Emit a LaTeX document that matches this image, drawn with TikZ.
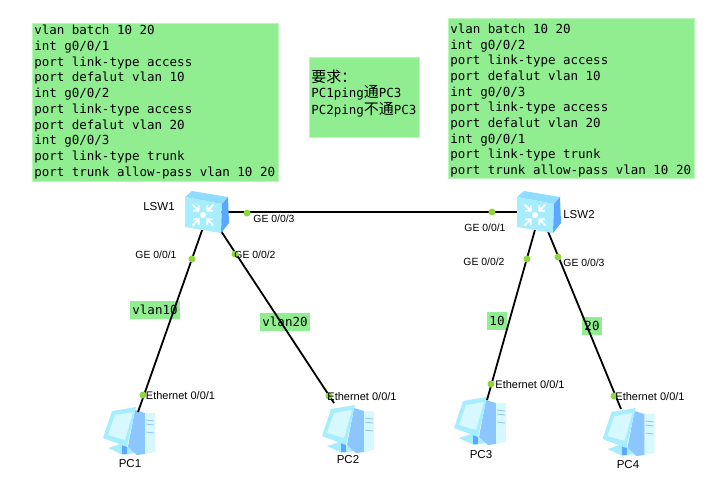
\documentclass[tikz,border=0pt]{standalone}
\usepackage{fontspec}
\setmainfont{Liberation Sans}
\setmonofont{DejaVu Sans Mono}
\newfontfamily\cjk{Noto Sans CJK SC}
\definecolor{notegreen}{HTML}{90EE90}
\definecolor{dotgreen}{HTML}{8FD63C}
\definecolor{iconfront}{HTML}{A6EEFF}
\definecolor{icontop}{HTML}{8FDCFF}
\definecolor{iconside}{HTML}{5CA8FF}
\definecolor{iconpale}{HTML}{D8F8FF}
\definecolor{iconmid}{HTML}{8CC6FF}
\newcommand{\cn}[1]{{\cjk\fontsize{15}{15}\selectfont #1}}
\tikzset{
  note/.style={fill=notegreen,draw=notegreen!60!white,line width=0.5pt,anchor=north west,align=left,inner sep=0pt,
    font=\ttfamily\fontsize{12.5}{15.7}\selectfont},
  tag/.style={fill=notegreen,inner sep=0pt,minimum height=18pt,font=\ttfamily\fontsize{12.5}{14}\selectfont},
  port/.style={font=\fontsize{10.4}{12}\selectfont,inner sep=0pt},
  ethport/.style={font=\fontsize{11}{12}\selectfont,inner sep=0pt},
  devname/.style={font=\fontsize{11.5}{13}\selectfont,inner sep=0pt},
  link/.style={line width=1.8pt,black},
  dot/.style={circle,fill=dotgreen,inner sep=0pt,minimum size=7pt},
  switchicon/.pic={
    \fill[icontop] (-22,-15) -- (-15,-21) -- (21,-15) -- (15,-8) -- cycle;
    \fill[iconfront] (-22,-15) -- (15,-8) -- (14,21) -- (-22,15) -- cycle;
    \fill[iconside] (15,-8) -- (21,-15) -- (22,11) -- (14,21) -- cycle;
    \fill[white] (-4,3) circle (3);
    \foreach \r in {45,135,225,315}
      \draw[white,line width=1.8pt,shift={(-4,3)},rotate=\r] (6,0) -- (15,0) (10,4) -- (6,0) -- (10,-4);
  },
  pcicon/.pic={
    \fill[iconfront] (-21,18) -- (-6,13) -- (6,23) -- (-6,25) -- cycle;
    \fill[iconside] (-7,13) -- (-2,13) -- (-2,24) -- (-7,24) -- cycle;
    \fill[iconmid] (6,-20) -- (16,-17) -- (16,24) -- (8,25) -- (-1,17) -- cycle;
    \fill[iconpale] (16,-17) -- (26,-17) -- (26,22) -- (16,24) -- cycle;
    \fill[iconfront] (-26,8) -- (-17,-19) -- (7,-23) -- (-2,17) -- cycle;
    \fill[iconpale] (-21,5) -- (-14,-15) -- (4,-18) -- (-4,10) -- cycle;
    \draw[iconside!70!white,line width=0.8pt] (17,-10) -- (25,-9) (17,-6) -- (25,-5) (17,2) -- (25,3);
  }
}
\begin{document}
\begin{tikzpicture}[x=1pt,y=-1pt]
  \useasboundingbox (0,0) rectangle (717,480);
  % config notes
  \node[note,minimum width=246pt,minimum height=158pt] (cfgL) at (32,23) {};
  \node[note,fill=none,draw=none] (cfgLtext) at (34,25)
    {vlan batch 10 20\\int g0/0/1\\port link-type access\\port defalut vlan 10\\int g0/0/2\\port link-type access\\port defalut vlan 20\\int g0/0/3\\port link-type trunk\\port trunk allow-pass vlan 10 20};
  \node[note,minimum width=246pt,minimum height=160pt] (cfgR) at (448,18) {};
  \node[note,fill=none,draw=none] (cfgRtext) at (450,23.5)
    {vlan batch 10 20\\int g0/0/2\\port link-type access\\port defalut vlan 10\\int g0/0/3\\port link-type access\\port defalut vlan 20\\int g0/0/1\\port link-type trunk\\port trunk allow-pass vlan 10 20};
  \node[note,minimum width=110pt,minimum height=80pt] (req) at (309,57) {};
  \node[note,fill=none,draw=none] (reqtext) at (311,70)
    {\cn{要求：}\\[-1pt]PC1ping\cn{通}PC3\\[1pt]PC2ping\cn{不通}PC3};
  % vlan tags sit under the links
  \node[tag,minimum width=50pt] (vlanA) at (155,310) {vlan10};
  \node[tag,minimum width=50pt] (vlanB) at (285,322) {vlan20};
  \node[tag,minimum width=20pt] (vlanC) at (497,321) {10};
  \node[tag,minimum width=20pt] (vlanD) at (592,325.5) {20};
  % devices
  \coordinate (LSW1) at (208.5,212);
  \coordinate (LSW2) at (540,212);
  \coordinate (PC1) at (138,412);
  \coordinate (PC2) at (334,403);
  \coordinate (PC3) at (487,400);
  \coordinate (PC4) at (621,409);
  \pic at (129,430) {pcicon};
  \pic at (348,428) {pcicon};
  \pic at (480,420) {pcicon};
  \pic at (628.5,431) {pcicon};
  \draw[link] (LSW1) -- (PC1);
  \draw[link] (LSW1) -- (PC2);
  \draw[link] (LSW2) -- (PC3);
  \draw[link] (LSW2) -- (PC4);
  \draw[link] (LSW1) -- (LSW2);
  \pic at (207,212) {switchicon};
  \pic at (539,212) {switchicon};
  % port dots
  \foreach \n/\x/\y in {a/192/259,b/235/254,c/247/213,d/492/212,e/527/259,f/558/257,g/143/395,h/329/396,i/491/384,j/614/396}
    \node[dot] (dot\n) at (\x,\y) {};
  % labels
  \node[devname] (nameLSW1) at (159,207) {LSW1};
  \node[devname] (nameLSW2) at (579,215) {LSW2};
  \node[devname] (namePC1) at (130,464) {PC1};
  \node[devname] (namePC2) at (348,460) {PC2};
  \node[devname] (namePC3) at (481,455) {PC3};
  \node[devname] (namePC4) at (628,465) {PC4};
  \node[port] (p1) at (156,255) {GE 0/0/1};
  \node[port] (p2) at (255,255) {GE 0/0/2};
  \node[port] (p3) at (274,219) {GE 0/0/3};
  \node[port] (p4) at (485,228) {GE 0/0/1};
  \node[port] (p5) at (484,262) {GE 0/0/2};
  \node[port] (p6) at (584,263) {GE 0/0/3};
  \node[ethport] (p7) at (180.5,396) {Ethernet 0/0/1};
  \node[ethport] (p8) at (362,397) {Ethernet 0/0/1};
  \node[ethport] (p9) at (530,385) {Ethernet 0/0/1};
  \node[ethport] (p10) at (650,397) {Ethernet 0/0/1};
\end{tikzpicture}
\end{document}
